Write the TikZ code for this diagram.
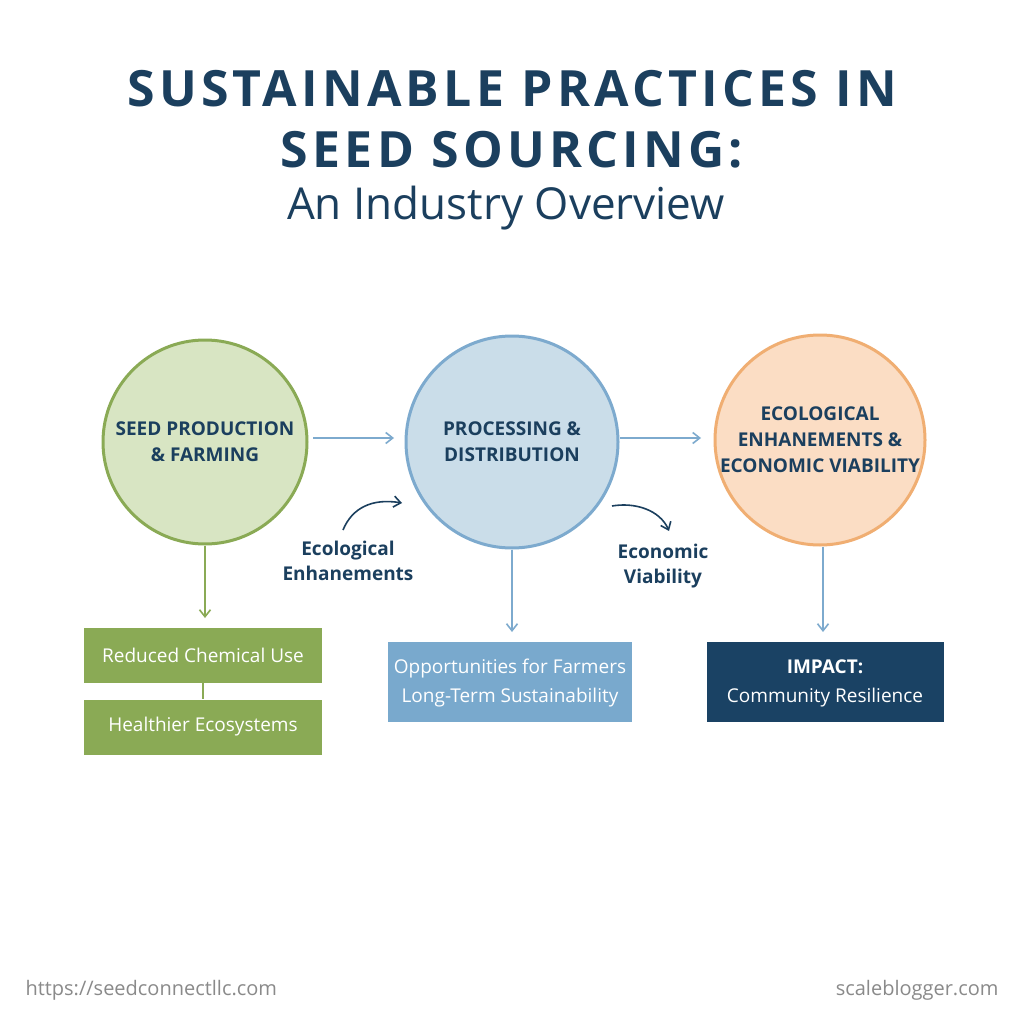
\documentclass[tikz,border=0pt]{standalone}
\usepackage{fontspec}
\setmainfont{Open Sans}
\newfontfamily\titlefont[LetterSpace=8.5]{Open Sans}
\usetikzlibrary{arrows.meta}
\definecolor{navy}{HTML}{1B3F5E}
\definecolor{gfill}{HTML}{D8E5C3}
\definecolor{gline}{HTML}{8AAA55}
\definecolor{bfill}{HTML}{CADDE9}
\definecolor{bline}{HTML}{7DAACE}
\definecolor{ofill}{HTML}{FBDDC4}
\definecolor{oline}{HTML}{F0AE72}
\definecolor{bbox}{HTML}{79A9CD}
\definecolor{nbox}{HTML}{1A4264}
\definecolor{foot}{HTML}{8A8A8A}
\tikzset{
  bigcirc/.style={circle, line width=3pt, inner sep=0pt, align=center, text=navy,
    font=\fontsize{19}{26}\selectfont\bfseries},
  flowarr/.style={draw=bline, line width=1.6pt, -{Straight Barb[length=7pt,width=11pt]}},
  curvarr/.style={draw=navy, line width=1.6pt, -{Straight Barb[length=7pt,width=11pt]}},
  rbox/.style={rectangle, inner sep=0pt, align=center, text=white,
    font=\fontsize{19}{30}\selectfont},
  sidelbl/.style={align=center, text=navy, font=\fontsize{19}{25}\selectfont\bfseries}
}
\begin{document}
\begin{tikzpicture}[x=1pt,y=-1pt]
\useasboundingbox[fill=white] (0,0) rectangle (1024,1024);
% title
\node[text=navy, font=\titlefont\fontsize{50}{60}\selectfont\bfseries] (t1) at (512,89) {SUSTAINABLE PRACTICES IN};
\node[text=navy, font=\titlefont\fontsize{50}{60}\selectfont\bfseries] (t2) at (512,150) {SEED SOURCING:};
\node[text=navy, font=\fontsize{44}{50}\selectfont] (t3) at (506,208) {An Industry Overview};
% circles
\node[bigcirc, fill=gfill, draw=gline, minimum size=204pt] (c1) at (205,442) {SEED PRODUCTION\\\& FARMING};
\node[bigcirc, fill=bfill, draw=bline, minimum size=212pt] (c2) at (512,442) {PROCESSING \&\\DISTRIBUTION};
\node[bigcirc, fill=ofill, draw=oline, minimum size=210pt] (c3) at (820,440) {ECOLOGICAL\\ENHANEMENTS \&\\ECONOMIC VIABILITY};
% horizontal arrows
\coordinate (a1s) at (313,438); \coordinate (a1e) at (394,438);
\coordinate (a2s) at (620,438); \coordinate (a2e) at (701,438);
\draw[flowarr] (a1s) -- (a1e);
\draw[flowarr] (a2s) -- (a2e);
% boxes
\node[rbox, fill=gline, minimum width=238pt, minimum height=55pt] (g1) at (203,655) {Reduced Chemical Use};
\node[rbox, fill=gline, minimum width=238pt, minimum height=55pt] (g2) at (203,727) {Healthier Ecosystems};
\node[rbox, fill=bbox, minimum width=244pt, minimum height=80pt] (b1) at (510,682) {\raisebox{-4pt}{\begin{tabular}{@{}c@{}}Opportunities for Farmers\\[-1pt]Long-Term Sustainability\end{tabular}}};
\node[rbox, fill=nbox, minimum width=237pt, minimum height=80pt] (n1) at (825,682) {\raisebox{-4pt}{\begin{tabular}{@{}c@{}}\textbf{IMPACT:}\\[-1pt]Community Resilience\end{tabular}}};
% down arrows
\coordinate (g1top) at (205,618);
\coordinate (b1top) at (512,632);
\coordinate (n1top) at (823,632);
\draw[draw=gline, line width=1.6pt, -{Straight Barb[length=7pt,width=11pt]}] (c1.south) -- (g1top);
\draw[draw=gline, line width=1.6pt] (g1.south) -- (g2.north);
\draw[flowarr] (c2.south) -- (b1top);
\draw[flowarr] (c3.south -| n1top) -- (n1top);
% curved arrows
\coordinate (e1s) at (343,530); \coordinate (e1e) at (402,503);
\draw[curvarr] (e1s) .. controls (352,508) and (372,498) .. (e1e);
\coordinate (e2s) at (612,506); \coordinate (e2e) at (669,531);
\draw[curvarr] (e2s) .. controls (635,502) and (660,510) .. (e2e);
\node[sidelbl] (l1) at (348,561) {Ecological\\Enhanements};
\node[sidelbl] (l2) at (663,566) {Economic\\Viability};
% footer
\node[anchor=west, text=foot, font=\fontsize{20}{22}\selectfont] (f1) at (22,990) {https://seedconnectllc.com};
\node[anchor=east, text=foot, font=\fontsize{20}{22}\selectfont] (f2) at (1002,990) {scaleblogger.com};
\end{tikzpicture}
\end{document}
